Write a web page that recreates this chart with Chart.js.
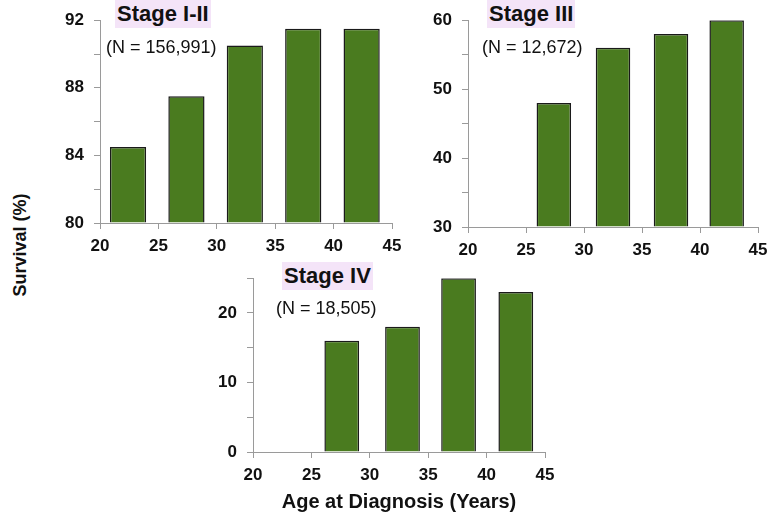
<!DOCTYPE html>
<html>
<head>
<meta charset="utf-8">
<script src="https://cdn.jsdelivr.net/npm/chart.js@4.4.0/dist/chart.umd.min.js"></script>
<style>
  body { margin: 0; background: #fff; font-family: "Liberation Sans", Arial, sans-serif; }
  #wrap { position: relative; width: 768px; height: 518px; overflow: hidden; }
  canvas { position: absolute; }
  .ttl { position: absolute; background: #f4e4f8; font-weight: bold; font-size: 22px; line-height: 28px; padding: 0 2px; color: #111; }
  .n { position: absolute; font-size: 18px; line-height: 20px; color: #111; }
  #ylab { position: absolute; left: 20px; top: 245px; transform: translate(-50%, -50%) rotate(-90deg); font-weight: bold; font-size: 18px; white-space: nowrap; color: #111; }
</style>
</head>
<body>
<div id="wrap">
  <canvas id="c1" style="left:40px;top:0px"></canvas>
  <canvas id="c2" style="left:410px;top:0px"></canvas>
  <canvas id="c3" style="left:195px;top:258px"></canvas>
  <div class="ttl" style="left:115px;top:0px">Stage I-II</div>
  <div class="n" style="left:106px;top:37px">(N = 156,991)</div>
  <div class="ttl" style="left:487px;top:0px">Stage III</div>
  <div class="n" style="left:482px;top:37px">(N = 12,672)</div>
  <div class="ttl" style="left:282px;top:262px">Stage IV</div>
  <div class="n" style="left:276px;top:298px">(N = 18,505)</div>
  <div id="ylab">Survival (%)</div>
</div>
<script>
// age group centres (years) and survival (%)
var ages12 = [22.4, 27.4, 32.4, 37.4, 42.4];
var surv12 = [84.5, 87.5, 90.5, 91.5, 91.5];

var ages3 = [27.4, 32.5, 37.5, 42.3];
var surv3 = [48, 56, 58, 60];

var ages4 = [27.6, 32.8, 37.6, 42.5];
var surv4 = [16, 18, 25, 23];

var xTicks = [20, 25, 30, 35, 40, 45];

var green = "#4a7b1f";
var axisGrey = "#9a9a9a";
var font = "'Liberation Sans', Arial, sans-serif";

function pts(xs, ys) {
  return xs.map(function (x, i) { return { x: x, y: ys[i] }; });
}

function makeChart(id, w, h, xs, ys, yMin, yMax, step, labelEvery, pad, xTitle) {
  var c = document.getElementById(id);
  c.width = w; c.height = h;
  c.style.width = w + "px"; c.style.height = h + "px";
  new Chart(c, {
    type: "bar",
    data: {
      datasets: [{
        data: pts(xs, ys),
        backgroundColor: green,
        borderColor: "#1a1a1a",
        borderWidth: 1.5,
        barPercentage: 0.62,
        categoryPercentage: 1,
        base: yMin
      }]
    },
    options: {
      responsive: false,
      animation: false,
      layout: { padding: pad },
      plugins: { legend: { display: false }, tooltip: { enabled: false } },
      scales: {
        x: {
          type: "linear",
          min: 20, max: 45,
          offset: false,
          afterBuildTicks: function (s) { s.ticks = xTicks.map(function (v) { return { value: v }; }); },
          afterFit: function (s) { s.height = xTitle ? 66 : 37; },
          grid: { drawOnChartArea: false, offset: false, color: axisGrey, tickLength: 6 },
          border: { color: axisGrey },
          ticks: { color: "#111", font: { family: font, size: 17, weight: "bold" }, padding: 7, maxRotation: 0 },
          title: xTitle ? { display: true, text: xTitle, color: "#111", font: { family: font, size: 20, weight: "bold" }, padding: { top: 2 } } : { display: false }
        },
        y: {
          min: yMin, max: yMax,
          afterFit: function (s) { s.width = 58; },
          grid: { drawOnChartArea: false, color: axisGrey, tickLength: 6 },
          border: { color: axisGrey },
          ticks: {
            stepSize: step,
            color: "#111",
            font: { family: font, size: 17, weight: "bold" },
            padding: 10,
            callback: function (v) { return (v - yMin) % labelEvery === 0 ? v : ""; }
          }
        }
      }
    }
  });
}

makeChart("c1", 380, 260, ages12, surv12, 80, 92, 2, 4, { top: 16, right: 28, left: 2, bottom: 0 }, null);
makeChart("c2", 380, 264, ages3, surv3, 30, 60, 5, 10, { top: 17, right: 32, left: 0, bottom: 0 }, null);
makeChart("c3", 380, 260, ages4, surv4, 0, 25, 5, 10, { top: 16, right: 30, left: 0, bottom: 0 }, "Age at Diagnosis (Years)");
</script>
</body>
</html>
